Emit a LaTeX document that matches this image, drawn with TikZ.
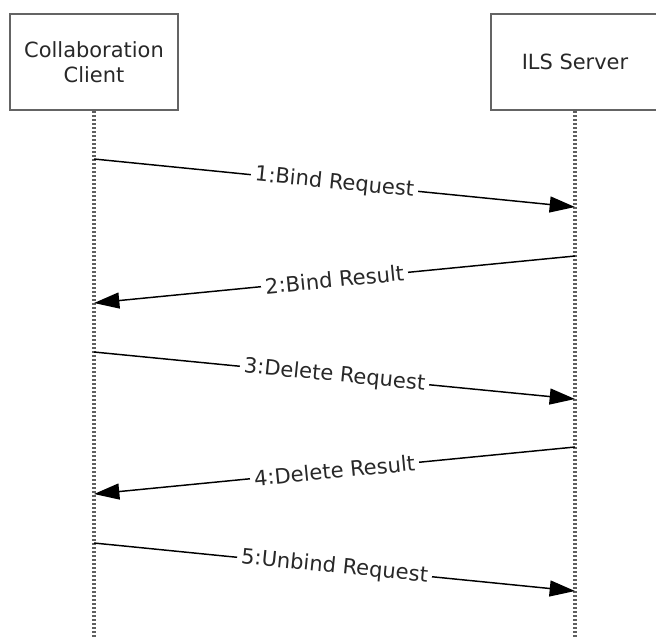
\documentclass[tikz,border=0pt]{standalone}
\usepackage{fontspec}
\setmainfont{DejaVu Sans}
\usetikzlibrary{arrows.meta}
\definecolor{boxgray}{RGB}{100,100,100}
\definecolor{linegray}{RGB}{95,95,95}
\definecolor{txt}{RGB}{40,40,40}
\begin{document}
\begin{tikzpicture}[x=0.75pt,y=-0.75pt,
  actor/.style={draw=boxgray,line width=1.8pt,fill=white,minimum width=126pt,minimum height=72pt,
    align=center,text=txt,font=\fontsize{15.7}{19}\selectfont,inner sep=0pt},
  lifeline/.style={draw=linegray,line width=2.4pt,dash pattern=on 1.6pt off 1.4pt},
  msg/.style={draw=black,line width=1.1pt,-{Triangle[length=19pt,width=12pt]}},
  lbl/.style={fill=white,text=txt,font=\fontsize{15.8}{19}\selectfont,inner sep=3pt,sloped,pos=0.5}]
\useasboundingbox (0,0) rectangle (656,637);
\node[actor] (cc) at (94,62) {Collaboration\\Client};
\node[actor] (ils) at (575,62) {ILS Server};
\coordinate (ccend) at (94,640);
\coordinate (ilsend) at (575,640);
\draw[lifeline] (cc) -- (ccend);
\draw[lifeline] (ils) -- (ilsend);
\coordinate (m1s) at (94,159);  \coordinate (m1e) at (575,207);
\coordinate (m2s) at (575,256); \coordinate (m2e) at (94,303);
\coordinate (m3s) at (94,352);  \coordinate (m3e) at (575,399);
\coordinate (m4s) at (575,447); \coordinate (m4e) at (94,494);
\coordinate (m5s) at (94,543);  \coordinate (m5e) at (575,591);
\draw[msg] (m1s) -- node[lbl] {1:Bind Request} (m1e);
\draw[msg] (m2s) -- node[lbl] {2:Bind Result} (m2e);
\draw[msg] (m3s) -- node[lbl] {3:Delete Request} (m3e);
\draw[msg] (m4s) -- node[lbl] {4:Delete Result} (m4e);
\draw[msg] (m5s) -- node[lbl] {5:Unbind Request} (m5e);
\end{tikzpicture}
\end{document}
